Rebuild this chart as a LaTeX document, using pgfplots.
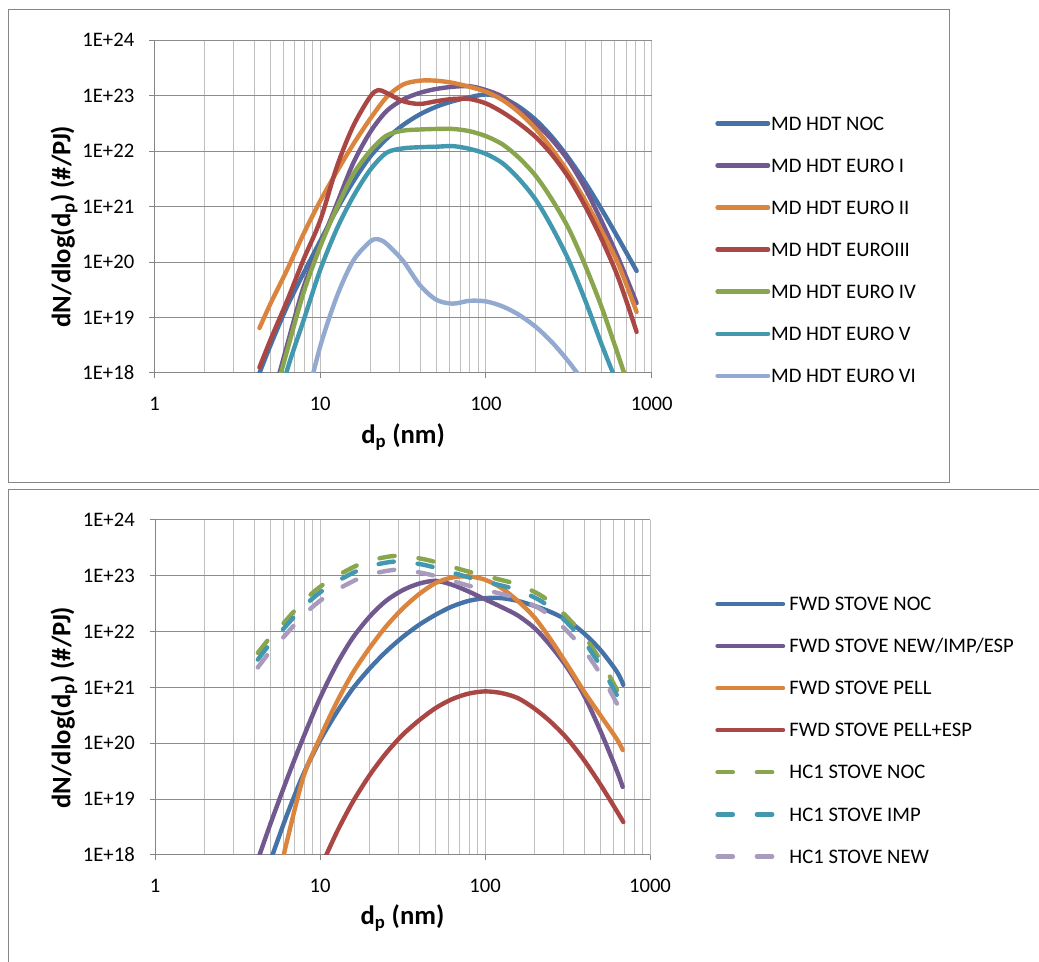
\documentclass[border=0pt]{standalone}
\usepackage{fontspec}
\setmainfont{Carlito}
\usepackage{pgfplots}
\pgfplotsset{compat=1.18}

% Excel 2007 chart palette
\definecolor{cblue}{HTML}{4572A7}
\definecolor{cred}{HTML}{AA4643}
\definecolor{cgreen}{HTML}{89A54E}
\definecolor{cpurple}{HTML}{71588F}
\definecolor{caqua}{HTML}{4198AF}
\definecolor{corange}{HTML}{DB843D}
\definecolor{clblue}{HTML}{93A9CF}
\definecolor{clav}{HTML}{A99BBD}
\definecolor{axgray}{RGB}{134,134,134}
\definecolor{griddark}{RGB}{140,140,140}
\definecolor{gridlight}{RGB}{191,191,191}

\tikzset{hc/.style={dash pattern=on 11.5pt off 18pt}}

\begin{document}
\begin{tikzpicture}[x=0.75pt,y=0.75pt]
\useasboundingbox (0,0) rectangle (1039,962);
% chart frames
\draw[axgray, line width=0.75pt] (8,952) rectangle (949,479);
\draw[axgray, line width=0.75pt] (1040,472) -- (8,472) -- (8,-2);

% ---- upper chart: MD HDT ----
\begin{axis}[
  at={(115.875pt,441.75pt)}, anchor=south west,
  scale only axis, width=372.9pt, height=249.6pt,
  xmode=log, ymode=log,
  xmin=1, xmax=1000, ymin=1e18, ymax=1e24,
  xtick={1,10,100,1000}, xticklabels={1,10,100,1000},
  minor xtick={2,3,4,5,6,7,8,9,20,30,40,50,60,70,80,90,200,300,400,500,600,700,800,900},
  ytick={1e18,1e19,1e20,1e21,1e22,1e23,1e24},
  yticklabels={1E+18,1E+19,1E+20,1E+21,1E+22,1E+23,1E+24},
  axis x line*=bottom, axis y line*=left,
  x axis line style={-}, y axis line style={-},
  axis line style={draw=axgray, line width=0.75pt},
  xmajorgrids=true, xminorgrids=true, ymajorgrids=true,
  major x grid style={draw=gridlight, line width=0.75pt},
  minor x grid style={draw=gridlight, line width=0.75pt},
  major y grid style={draw=griddark, line width=0.75pt},
  tick align=outside, major tick length=4pt, minor tick length=0pt,
  tick style={draw=axgray, line width=0.75pt},
  ticklabel style={font=\fontsize{15.5}{18}\selectfont},
  yticklabel style={anchor=east, inner sep=0pt, xshift=-11pt},
  xticklabel style={anchor=north, inner sep=0pt, yshift=-14pt},
  xlabel={d\textsubscript{p} (nm)},
  ylabel={dN/dlog(d\textsubscript{p}) (\#/PJ)},
  label style={font=\fontsize{20}{24}\selectfont\bfseries},
  xlabel style={at={(axis description cs:0.5,-0.192)}, anchor=center},
  ylabel style={at={(axis description cs:-0.182,0.44)}, anchor=center},
  legend cell align=left,
  legend style={draw=none, fill=none, inner sep=0pt, outer sep=0pt,
    at={(axis description cs:1.128,0.774)}, anchor=north west,
    row sep=18.9pt, column sep=0pt,
    font=\fontsize{15.5}{18}\selectfont,
    nodes={inner sep=0pt, text height=11pt, text depth=0pt, anchor=base west}},
  legend image code/.code={\draw[#1] (0pt,5pt) -- (37.9pt,5pt); \path (38.5pt,0pt);},
  every axis plot/.append style={line width=3.3pt, smooth, line cap=round, line join=round},
]
\addplot[cblue] coordinates {
 (4.3,1.0e18) (5.01,3.16e18) (6.31,1.585e19) (7.94,6.31e19) (10,2.4e20)
 (12.6,8.91e20) (15.8,2.82e21) (20,7.94e21) (25.1,1.66e22) (31.6,2.95e22)
 (39.8,4.57e22) (50.1,6.31e22) (63.1,7.94e22) (79.4,9.33e22) (100,1.05e23)
 (126,9.12e22) (158,6.31e22) (200,3.63e22) (251,1.78e22) (316,7.41e21)
 (398,2.69e21) (501,8.71e20) (631,2.63e20) (811,6.92e19)};
\addlegendentry{MD HDT NOC}
\addplot[cpurple] coordinates {
 (5.01,2.51e17) (6.31,3.16e18) (7.94,3.55e19) (10,2.0e20) (12.6,1.12e21)
 (15.8,6.03e21) (20,2.19e22) (25.1,5.25e22) (31.6,8.51e22) (39.8,1.12e23)
 (50.1,1.32e23) (63.1,1.445e23) (79.4,1.48e23) (100,1.26e23) (126,9.55e22)
 (158,5.75e22) (200,3.16e22) (251,1.585e22) (316,6.61e21) (398,2.09e21)
 (501,5.25e20) (631,1.15e20) (811,1.82e19)};
\addlegendentry{MD HDT EURO I}
\addplot[corange] coordinates {
 (4.3,6.46e18) (5.01,1.78e19) (6.31,7.24e19) (7.94,3.24e20) (10,1.26e21)
 (12.6,4.27e21) (15.8,1.32e22) (20,3.8e22) (25.1,9.33e22) (31.6,1.585e23)
 (39.8,1.86e23) (50.1,1.86e23) (63.1,1.7e23) (79.4,1.445e23) (100,1.175e23)
 (126,8.32e22) (158,5.01e22) (200,2.51e22) (251,1.07e22) (316,3.98e21)
 (398,1.26e21) (501,3.55e20) (631,8.91e19) (811,1.26e19)};
\addlegendentry{MD HDT EURO II}
\addplot[cred] coordinates {
 (4.3,1.26e18) (5.01,3.98e18) (6.31,2.0e19) (7.94,1.12e20) (10,5.62e20)
 (12.6,5.25e21) (15.8,2.82e22) (20,9.55e22) (22.4,1.26e23) (25.1,1.12e23)
 (31.6,7.94e22) (39.8,7.08e22) (50.1,7.94e22) (63.1,8.71e22) (79.4,8.71e22)
 (100,7.24e22) (126,5.01e22) (158,3.16e22) (200,1.78e22) (251,8.51e21)
 (316,3.31e21) (398,1.0e21) (501,2.51e20) (631,5.01e19) (811,5.5e18)};
\addlegendentry{MD HDT EUROIII}
\addplot[cgreen] coordinates {
 (5.01,2.0e17) (6.31,2.51e18) (7.94,2.82e19) (10,1.905e20) (12.6,9.55e20)
 (15.8,3.8e21) (20,1.0e22) (25.1,1.905e22) (31.6,2.34e22) (39.8,2.45e22)
 (50.1,2.51e22) (63.1,2.51e22) (79.4,2.29e22) (100,1.86e22) (126,1.32e22)
 (158,7.59e21) (200,3.55e21) (251,1.32e21) (316,3.98e20) (398,8.51e19)
 (501,1.48e19) (631,2.0e18) (794,2.51e17)};
\addlegendentry{MD HDT EURO IV}
\addplot[caqua] coordinates {
 (5.01,7.94e16) (6.31,1.12e18) (7.94,8.91e18) (10,7.24e19) (12.6,3.98e20)
 (15.8,1.51e21) (20,4.57e21) (25.1,9.33e21) (31.6,1.12e22) (39.8,1.175e22)
 (50.1,1.2e22) (63.1,1.23e22) (79.4,1.1e22) (100,8.91e21) (126,6.03e21)
 (158,3.16e21) (200,1.32e21) (251,4.17e20) (316,1.07e20) (398,2.0e19)
 (501,3.16e18) (631,5.62e17)};
\addlegendentry{MD HDT EURO V}
\addplot[clblue] coordinates {
 (7.94,2.0e17) (10,3.02e18) (12.6,2.4e19) (15.8,1.05e20) (20,2.34e20)
 (22.4,2.57e20) (25.1,2.14e20) (31.6,1.05e20) (39.8,3.89e19) (50.1,2.09e19)
 (63.1,1.78e19) (79.4,2.0e19) (100,1.95e19) (126,1.585e19) (158,1.12e19)
 (200,6.76e18) (251,3.55e18) (316,1.585e18) (398,6.31e17)};
\addlegendentry{MD HDT EURO VI}
\end{axis}

% ---- lower chart: stoves ----
\begin{axis}[
  at={(116.25pt,80.25pt)}, anchor=south west,
  scale only axis, width=371.25pt, height=251.25pt,
  xmode=log, ymode=log,
  xmin=1, xmax=1000, ymin=1e18, ymax=1e24,
  xtick={1,10,100,1000}, xticklabels={1,10,100,1000},
  minor xtick={2,3,4,5,6,7,8,9,20,30,40,50,60,70,80,90,200,300,400,500,600,700,800,900},
  ytick={1e18,1e19,1e20,1e21,1e22,1e23,1e24},
  yticklabels={1E+18,1E+19,1E+20,1E+21,1E+22,1E+23,1E+24},
  axis x line*=bottom, axis y line*=left,
  x axis line style={-}, y axis line style={-},
  axis line style={draw=axgray, line width=0.75pt},
  xmajorgrids=true, xminorgrids=true, ymajorgrids=true,
  major x grid style={draw=gridlight, line width=0.75pt},
  minor x grid style={draw=gridlight, line width=0.75pt},
  major y grid style={draw=griddark, line width=0.75pt},
  tick align=outside, major tick length=4pt, minor tick length=0pt,
  tick style={draw=axgray, line width=0.75pt},
  ticklabel style={font=\fontsize{15.5}{18}\selectfont},
  yticklabel style={anchor=east, inner sep=0pt, xshift=-11pt},
  xticklabel style={anchor=north, inner sep=0pt, yshift=-14pt},
  xlabel={d\textsubscript{p} (nm)},
  ylabel={dN/dlog(d\textsubscript{p}) (\#/PJ)},
  label style={font=\fontsize{20}{24}\selectfont\bfseries},
  xlabel style={at={(axis description cs:0.5,-0.188)}, anchor=center},
  ylabel style={at={(axis description cs:-0.184,0.44)}, anchor=center},
  legend cell align=left,
  legend style={draw=none, fill=none, inner sep=0pt, outer sep=0pt,
    at={(axis description cs:1.132,0.773)}, anchor=north west,
    row sep=18.9pt, column sep=0pt,
    font=\fontsize{15.5}{18}\selectfont,
    nodes={inner sep=0pt, text height=11pt, text depth=0pt, anchor=base west}},
  legend image code/.code={\draw[#1] (0pt,5pt) -- (49.1pt,5pt); \path (52.3pt,0pt);},
  every axis plot/.append style={line width=3.3pt, smooth, line cap=round, line join=round},
]
\addplot[cblue] coordinates {
 (5.01,7.94e17) (6.31,5.25e18) (7.94,2.82e19) (10,1.12e20) (12.6,3.55e20)
 (15.8,9.55e20) (20,2.19e21) (25.1,4.37e21) (31.6,7.94e21) (39.8,1.32e22)
 (50.1,2.0e22) (63.1,2.82e22) (79.4,3.55e22) (100,3.98e22) (126,3.98e22)
 (158,3.55e22) (200,2.88e22) (251,2.24e22) (316,1.585e22) (398,9.33e21)
 (501,4.68e21) (631,1.905e21) (689,1.12e21)};
\addlegendentry{FWD STOVE NOC}
\addplot[cpurple] coordinates {
 (4.3,1.0e18) (5.01,3.63e18) (6.31,2.29e19) (7.94,1.29e20) (10,6.46e20)
 (12.6,2.57e21) (15.8,7.76e21) (20,1.86e22) (25.1,3.55e22) (31.6,5.5e22)
 (39.8,7.24e22) (50.1,8.13e22) (63.1,6.92e22) (79.4,5.25e22) (100,3.8e22)
 (126,2.75e22) (158,1.95e22) (200,1.15e22) (251,5.5e21) (316,2.24e21)
 (398,7.24e20) (501,1.66e20) (631,3.16e19) (683,1.66e19)};
\addlegendentry{FWD STOVE NEW/IMP/ESP}
\addplot[corange] coordinates {
 (5.62,3.98e17) (6.31,1.78e18) (7.94,2.51e19) (10,1.26e20) (12.6,5.37e20)
 (15.8,1.82e21) (20,5.13e21) (25.1,1.23e22) (31.6,2.57e22) (39.8,4.68e22)
 (50.1,7.41e22) (63.1,9.33e22) (79.4,9.77e22) (100,8.51e22) (126,6.03e22)
 (158,3.55e22) (200,1.78e22) (251,7.08e21) (316,2.51e21) (398,8.51e20)
 (501,3.16e20) (631,1.175e20) (683,7.59e19)};
\addlegendentry{FWD STOVE PELL}
\addplot[cred] coordinates {
 (10,5.62e17) (12.6,2.51e18) (15.8,8.91e18) (20,2.69e19) (25.1,6.61e19)
 (31.6,1.41e20) (39.8,2.57e20) (50.1,4.27e20) (63.1,6.17e20) (79.4,7.76e20)
 (100,8.51e20) (126,7.94e20) (158,6.46e20) (200,4.17e20) (251,2.4e20)
 (316,1.2e20) (398,5.01e19) (501,1.82e19) (631,6.03e18) (689,3.89e18)};
\addlegendentry{FWD STOVE PELL+ESP}
\addplot[cgreen, hc] coordinates {
 (4.2,4.17e21) (5.0,7.94e21) (6.0,1.41e22) (7.2,2.57e22) (8.9,4.79e22)
 (11,7.76e22) (14.2,1.2e23) (17.8,1.66e23) (23.5,2.09e23) (30.5,2.29e23)
 (42,2.0e23) (54,1.66e23) (72,1.29e23) (93,1.05e23) (124,8.51e22)
 (160,6.92e22) (212,4.68e22) (262,3.02e22) (324,1.66e22) (392,8.91e21)
 (462,4.47e21) (532,2.29e21) (612,1.07e21) (689,5.62e20)};
\addlegendentry{HC1 STOVE NOC}
\addplot[caqua, hc] coordinates {
 (4.2,3.16e21) (5.0,6.17e21) (6.0,1.12e22) (7.2,2.04e22) (8.9,3.8e22)
 (11,6.17e22) (14.2,9.55e22) (17.8,1.32e23) (23.5,1.66e23) (30.5,1.82e23)
 (42,1.585e23) (54,1.32e23) (72,1.02e23) (93,8.32e22) (124,6.76e22)
 (160,5.5e22) (212,3.72e22) (262,2.4e22) (324,1.32e22) (392,7.08e21)
 (462,3.55e21) (532,1.82e21) (612,8.51e20) (689,4.57e20)};
\addlegendentry{HC1 STOVE IMP}
\addplot[clav, hc] coordinates {
 (4.2,2.29e21) (5.0,4.47e21) (6.0,7.94e21) (7.2,1.445e22) (8.9,2.69e22)
 (11,4.37e22) (14.2,6.76e22) (17.8,9.33e22) (23.5,1.175e23) (30.5,1.29e23)
 (42,1.12e23) (54,9.33e22) (72,7.24e22) (93,5.89e22) (124,4.79e22)
 (160,3.89e22) (212,2.63e22) (262,1.7e22) (324,9.33e21) (392,5.01e21)
 (462,2.51e21) (532,1.29e21) (612,6.03e20) (689,3.16e20)};
\addlegendentry{HC1 STOVE NEW}
\end{axis}
\end{tikzpicture}
\end{document}
